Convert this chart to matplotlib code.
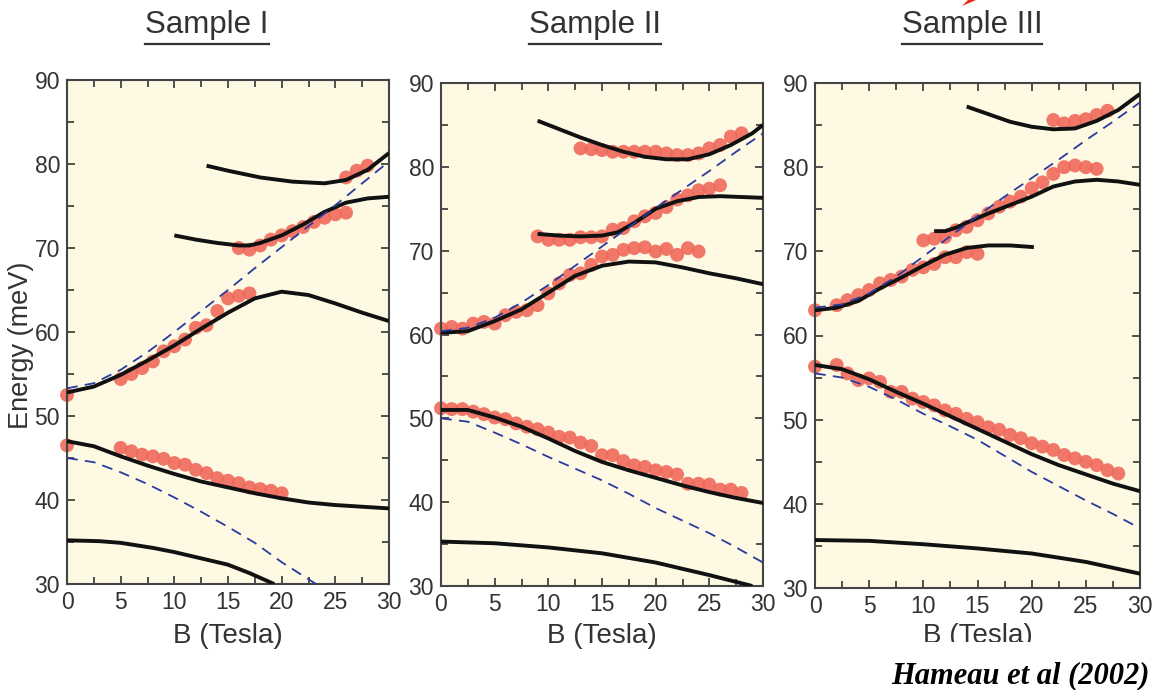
import matplotlib
matplotlib.use("Agg")
import matplotlib.pyplot as plt
from matplotlib.lines import Line2D
from matplotlib.patches import Rectangle, Polygon
from matplotlib.ticker import MultipleLocator

plt.rcParams['font.family'] = ['Liberation Sans', 'DejaVu Sans']

# ---- Sample I ----
s1_up_b = [0, 2.5, 5, 7.5, 10, 12.5, 15, 17.5, 20, 22.5, 25, 27.5, 30]
s1_up_e = [52.8, 53.5, 54.9, 56.6, 58.4, 60.4, 62.3, 64.0, 64.8, 64.4, 63.4, 62.3, 61.3]
s1_mid_b = [10, 12, 14, 16, 17, 18, 20, 22, 24, 26, 28, 30]
s1_mid_e = [71.5, 71.0, 70.6, 70.3, 70.3, 70.6, 71.5, 72.8, 74.3, 75.4, 75.9, 76.1]
s1_top_b = [13, 15, 18, 21, 24, 26, 28, 30]
s1_top_e = [79.8, 79.2, 78.4, 77.9, 77.7, 78.1, 79.3, 81.3]
s1_low_b = [0, 2.5, 5, 7.5, 10, 12.5, 15, 17.5, 20, 22.5, 25, 27.5, 30]
s1_low_e = [47.0, 46.4, 45.2, 44.1, 43.1, 42.2, 41.5, 40.8, 40.2, 39.7, 39.4, 39.2, 39.0]
s1_bot_b = [0, 3, 5, 8, 10, 12, 15, 17, 19.3]
s1_bot_e = [35.2, 35.1, 34.9, 34.3, 33.8, 33.2, 32.3, 31.3, 30.0]
s1_dup_b = [0, 2.5, 5, 7.5, 10, 12.5, 15, 17.5, 20, 22.5, 25, 27.5, 30]
s1_dup_e = [53.3, 53.9, 55.5, 57.6, 60.0, 62.5, 65.0, 67.6, 70.1, 72.6, 75.1, 77.7, 80.3]
s1_dlow_b = [0, 2.5, 5, 7.5, 10, 12.5, 15, 17.5, 20, 23.2]
s1_dlow_e = [45.0, 44.5, 43.3, 41.9, 40.3, 38.6, 36.8, 34.9, 32.6, 30.0]

s1_pts_b = [0, 5, 6, 7, 8, 9, 10, 11, 12, 13, 14, 15, 16, 17,
            16, 17, 18, 19, 20, 21, 22, 23, 24, 25, 26,
            26, 27, 28,
            0, 5, 6, 7, 8, 9, 10, 11, 12, 13, 14, 15, 16, 17, 18, 19, 20]
s1_pts_e = [52.5, 54.4, 55.0, 55.7, 56.5, 57.7, 58.3, 59.1, 60.5, 60.8, 62.5, 64.0, 64.3, 64.6,
            70.0, 69.8, 70.3, 71.0, 71.5, 72.0, 72.5, 73.1, 73.6, 74.0, 74.2,
            78.4, 79.2, 79.8,
            46.5, 46.2, 45.8, 45.4, 45.2, 44.9, 44.4, 44.2, 43.6, 43.2, 42.6, 42.3, 42.0, 41.5, 41.3, 41.1, 40.8]

# ---- Sample II ----
s2_up_b = [0, 2.5, 5, 7.5, 10, 12.5, 15, 17.5, 20, 22.5, 25, 27.5, 30]
s2_up_e = [60.2, 60.4, 61.6, 63.0, 65.0, 67.0, 68.2, 68.7, 68.6, 68.0, 67.3, 66.7, 66.0]
s2_mid_b = [9, 11, 13, 15, 16.5, 18, 20, 22, 24, 26, 28, 30]
s2_mid_e = [72.0, 71.8, 71.7, 71.8, 72.2, 73.3, 75.0, 75.9, 76.4, 76.5, 76.4, 76.3]
s2_top_b = [9, 11, 13, 15, 17, 19, 21, 23, 25, 27, 29, 30]
s2_top_e = [85.5, 84.5, 83.5, 82.6, 81.8, 81.2, 80.9, 80.9, 81.5, 82.6, 84.0, 85.0]
s2_low_b = [0, 2.5, 5, 7.5, 10, 12.5, 15, 17.5, 20, 22.5, 25, 27.5, 30]
s2_low_e = [51.0, 51.0, 50.1, 49.0, 47.6, 46.1, 44.8, 43.8, 42.9, 42.0, 41.2, 40.5, 39.9]
s2_bot_b = [0, 5, 10, 15, 20, 25, 29]
s2_bot_e = [35.3, 35.1, 34.6, 33.9, 32.8, 31.3, 30.0]
s2_dup_b = [0, 2.5, 5, 7.5, 10, 12.5, 15, 17.5, 20, 22.5, 25, 27.5, 30]
s2_dup_e = [60.4, 60.8, 62.0, 63.8, 65.9, 68.2, 70.5, 72.8, 75.1, 77.3, 79.5, 81.8, 84.0]
s2_dlow_b = [0, 2.5, 5, 7.5, 10, 12.5, 15, 17.5, 20, 22.5, 25, 27.5, 30]
s2_dlow_e = [50.0, 49.6, 48.3, 46.9, 45.4, 44.0, 42.6, 41.0, 39.3, 37.8, 36.3, 34.6, 32.8]

s2_pts_b = [0, 1, 2, 3, 4, 5, 6, 7, 8, 9, 10, 11, 12, 13, 14, 15, 16, 17, 18, 19, 20, 21, 22, 23, 24,
            9, 10, 11, 12, 13, 14, 15, 16, 17, 18, 19, 20, 21, 22, 23, 24, 25, 26,
            13, 14, 15, 16, 17, 18, 19, 20, 21, 22, 23, 24, 25, 26, 27, 28,
            0, 1, 2, 3, 4, 5, 6, 7, 8, 9, 10, 11, 12, 13, 14, 15, 16, 17, 18, 19, 20, 21, 22, 23, 24,
            25, 26, 27, 28]
s2_pts_e = [60.7, 60.9, 60.7, 61.3, 61.5, 61.3, 62.3, 62.7, 62.9, 63.5, 64.9, 66.1, 67.1, 67.3, 68.3,
            69.3, 69.5, 70.1, 70.3, 70.4, 69.9, 70.2, 69.5, 70.3, 69.9,
            71.7, 71.3, 71.3, 71.3, 71.6, 71.6, 71.7, 72.5, 72.7, 73.5, 74.1, 74.5, 75.2, 76.1, 76.6,
            77.2, 77.4, 77.8,
            82.2, 82.1, 82.0, 81.8, 81.8, 81.8, 81.8, 81.8, 81.6, 81.4, 81.4, 81.6, 82.2, 82.6, 83.6, 84.0,
            51.2, 51.1, 51.1, 50.8, 50.5, 50.1, 49.9, 49.4, 49.0, 48.7, 48.3, 47.8, 47.7, 47.1, 46.7,
            45.6, 45.6, 44.9, 44.4, 44.2, 43.8, 43.6, 43.3, 42.2, 42.2, 42.1, 41.5, 41.5, 41.1]

# ---- Sample III ----
s3_up_b = [0, 2, 4, 6, 8, 10, 12, 14, 16, 18, 20.2]
s3_up_e = [63.0, 63.3, 64.1, 65.6, 66.9, 68.3, 69.6, 70.4, 70.7, 70.7, 70.5]
s3_mid_b = [11, 12, 13, 14, 16, 18, 20, 22, 24, 26, 28, 30]
s3_mid_e = [72.4, 72.4, 72.8, 73.4, 74.5, 75.5, 76.5, 77.7, 78.3, 78.5, 78.3, 77.9]
s3_top_b = [14, 16, 18, 20, 22, 24, 26, 28, 30]
s3_top_e = [87.2, 86.3, 85.4, 84.8, 84.5, 84.6, 85.5, 86.8, 88.7]
s3_low_b = [0, 2.5, 5, 7.5, 10, 12.5, 15, 17.5, 20, 22.5, 25, 27.5, 30]
s3_low_e = [56.5, 56.0, 54.8, 53.3, 51.9, 50.4, 48.9, 47.4, 45.9, 44.6, 43.5, 42.4, 41.5]
s3_bot_b = [0, 5, 10, 15, 20, 25, 30]
s3_bot_e = [35.7, 35.6, 35.2, 34.7, 34.1, 33.1, 31.7]
s3_dup_b = [0, 2.5, 5, 7.5, 10, 12.5, 15, 17.5, 20, 22.5, 25, 27.5, 30]
s3_dup_e = [63.3, 63.7, 65.0, 67.0, 69.4, 71.8, 74.2, 76.5, 78.7, 80.9, 83.2, 85.4, 87.7]
s3_dlow_b = [0, 2.5, 5, 7.5, 10, 12.5, 15, 17.5, 20, 22.5, 25, 27.5, 30]
s3_dlow_e = [55.5, 55.0, 53.9, 52.4, 50.7, 49.2, 47.6, 45.7, 43.8, 42.1, 40.4, 38.8, 37.1]

s3_pts_b = [0, 2, 3, 4, 5, 6, 7, 8, 9, 10, 11, 12, 13, 14, 15,
            10, 11, 12, 13, 14, 15, 16, 17, 18, 19, 20, 21, 22, 23, 24, 25, 26,
            22, 23, 24, 25, 26, 27,
            0, 2, 3, 4, 5, 6, 7, 8, 9, 10, 11, 12, 13, 14, 15, 16, 17, 18, 19, 20,
            21, 22, 23, 24, 25, 26, 27, 28]
s3_pts_e = [63.0, 63.6, 64.2, 64.8, 65.4, 66.2, 66.6, 67.0, 67.8, 68.1, 68.5, 69.3, 69.3, 69.9, 69.7,
            71.3, 71.5, 71.7, 72.5, 72.9, 73.7, 74.5, 75.3, 75.9, 76.5, 77.5, 78.2, 79.2, 80.0, 80.2, 80.0, 79.8,
            85.6, 85.2, 85.5, 85.7, 86.2, 86.7,
            56.3, 56.5, 55.5, 54.7, 54.9, 54.5, 53.3, 53.3, 52.5, 52.1, 51.7, 51.1, 50.7, 50.1, 49.7,
            49.1, 48.8, 48.2, 47.8, 47.2, 46.8, 46.4, 45.8, 45.4, 45.0, 44.6, 44.0, 43.6]

panels = [
    ("Sample I", (67, 80, 389, 584), 207,
     [(s1_up_b, s1_up_e), (s1_mid_b, s1_mid_e), (s1_top_b, s1_top_e), (s1_low_b, s1_low_e), (s1_bot_b, s1_bot_e)],
     [(s1_dup_b, s1_dup_e), (s1_dlow_b, s1_dlow_e)], (s1_pts_b, s1_pts_e)),
    ("Sample II", (441, 83, 763, 586), 595,
     [(s2_up_b, s2_up_e), (s2_mid_b, s2_mid_e), (s2_top_b, s2_top_e), (s2_low_b, s2_low_e), (s2_bot_b, s2_bot_e)],
     [(s2_dup_b, s2_dup_e), (s2_dlow_b, s2_dlow_e)], (s2_pts_b, s2_pts_e)),
    ("Sample III", (815, 83, 1140, 588), 972,
     [(s3_up_b, s3_up_e), (s3_mid_b, s3_mid_e), (s3_top_b, s3_top_e), (s3_low_b, s3_low_e), (s3_bot_b, s3_bot_e)],
     [(s3_dup_b, s3_dup_e), (s3_dlow_b, s3_dlow_e)], (s3_pts_b, s3_pts_e)),
]

W, H = 1159, 690
fig = plt.figure(figsize=(W / 100, H / 100), dpi=100)
fig.patch.set_facecolor("white")

bg = "#fdf9e3"
dotc = "#f0695b"
dashc = "#2a3a9e"
txtc = "#333333"

titles = []
for name, (x0, y0, x1, y1), tx, curves, dashes, pts in panels:
    ax = fig.add_axes([x0 / W, 1 - y1 / H, (x1 - x0) / W, (y1 - y0) / H])
    ax.set_facecolor(bg)
    ax.scatter(pts[0], pts[1], s=100, color=dotc, edgecolors="none", alpha=0.9, zorder=2, clip_on=False)
    for b, e in curves:
        ax.plot(b, e, color="#111111", lw=2.8, solid_capstyle="butt", zorder=3)
    for b, e in dashes:
        ax.plot(b, e, color=dashc, lw=1.3, dashes=(6, 4), zorder=4)
    ax.set_xlim(0, 30)
    ax.set_ylim(30, 90)
    ax.xaxis.set_major_locator(MultipleLocator(5))
    ax.xaxis.set_minor_locator(MultipleLocator(2.5))
    ax.yaxis.set_major_locator(MultipleLocator(10))
    ax.yaxis.set_minor_locator(MultipleLocator(5))
    ax.tick_params(which="both", direction="in", top=True, right=True, width=1.2, color="#333333")
    ax.tick_params(which="major", length=6, labelsize=16.5, pad=5, labelcolor=txtc)
    ax.tick_params(which="minor", length=5)
    for sp in ax.spines.values():
        sp.set_linewidth(1.5)
        sp.set_color("#444444")
    cx = (x0 + x1) / 2
    fig.text(cx / W, 1 - 636 / H, "B (Tesla)", ha="center", va="center", fontsize=20, color=txtc)
    t = fig.text(tx / W, 1 - 25 / H, name, ha="center", va="center", fontsize=22.5, color=txtc)
    titles.append(t)

fig.text(21 / W, 1 - 345 / H, "Energy (meV)", rotation=90, ha="center", va="center",
         fontsize=19.5, color=txtc)

# underline titles
fig.canvas.draw()
r = fig.canvas.get_renderer()
for t in titles:
    bb = t.get_window_extent(r)
    fig.add_artist(Line2D([bb.x0 / W, bb.x1 / W], [1 - 44 / H, 1 - 44 / H],
                          transform=fig.transFigure, color=txtc, lw=1.6))

# clipped bottom area on the right
fig.add_artist(Rectangle((880 / W, 0), 1 - 880 / W, 1 - 642 / H, transform=fig.transFigure,
                         facecolor="white", edgecolor="none", zorder=5))
fig.text(1150 / W, 1 - 676 / H, "Hameau et al (2002)", ha="right", va="center", fontsize=22,
         family="Liberation Serif", style="italic", weight="bold", color="black", zorder=6)

# red arrow tip at top
fig.add_artist(Polygon([(962 / W, 1 - 6 / H), (976 / W, 1.0), (968 / W, 1.0)], closed=True,
                       transform=fig.transFigure, facecolor="#ee2211", edgecolor="none"))

fig.savefig("out.png", dpi=100)
